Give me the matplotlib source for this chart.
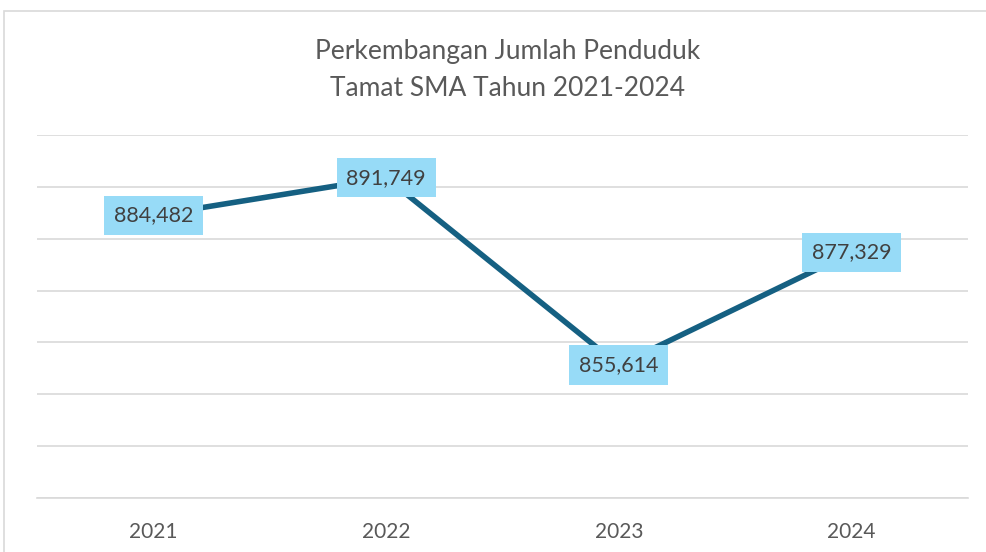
import matplotlib
matplotlib.use("Agg")
from matplotlib import pyplot as plt
from matplotlib.patches import Rectangle

years = ["2021", "2022", "2023", "2024"]
penduduk = [884482, 891749, 855614, 877329]
title = "Perkembangan Jumlah Penduduk\nTamat SMA Tahun 2021-2024"

plt.rcParams['font.family'] = ['Lato', 'DejaVu Sans']

fig = plt.figure(figsize=(9.86, 5.52), dpi=100)
ax = fig.add_axes([37 / 986, 1 - 498 / 552, 931 / 986, 363 / 552])

# chart border like a spreadsheet chart
fig.patches.append(Rectangle((4 / 986, -0.05), 1.2, 1 - 11 / 552 + 0.05, transform=fig.transFigure,
                             fill=False, edgecolor='#d9d9d9', linewidth=1.2))

x = range(len(years))
ax.plot(x, penduduk, color='#156082', linewidth=4, solid_capstyle='butt', zorder=3)
for i, v in enumerate(penduduk):
    ax.text(i, v, "{:,}".format(v), ha='center', va='center', fontsize=15.5, color='#404040', zorder=4,
            bbox=dict(boxstyle='square,pad=0.45', facecolor='#97dbf7', edgecolor='none'))

ax.set_xlim(-0.5, 3.5)
ax.set_ylim(830000, 900000)
ax.set_yticks(range(830000, 900001, 10000))
ax.yaxis.grid(True, color='#d9d9d9', linewidth=1.2)
ax.set_axisbelow(True)
ax.tick_params(axis='y', left=False, labelleft=False)
ax.set_xticks(list(x))
ax.set_xticklabels(years, fontsize=15, color='#595959')
ax.tick_params(axis='x', length=0, pad=17)
for s in ['top', 'right', 'left']:
    ax.spines[s].set_visible(False)
ax.spines['bottom'].set_color('#d9d9d9')
ax.spines['bottom'].set_linewidth(1.2)

fig.text(508 / 986, 1 - 70 / 552, title, ha='center', va='center', fontsize=19, color='#595959',
         linespacing=1.55)

fig.savefig("out.png", dpi=100)
